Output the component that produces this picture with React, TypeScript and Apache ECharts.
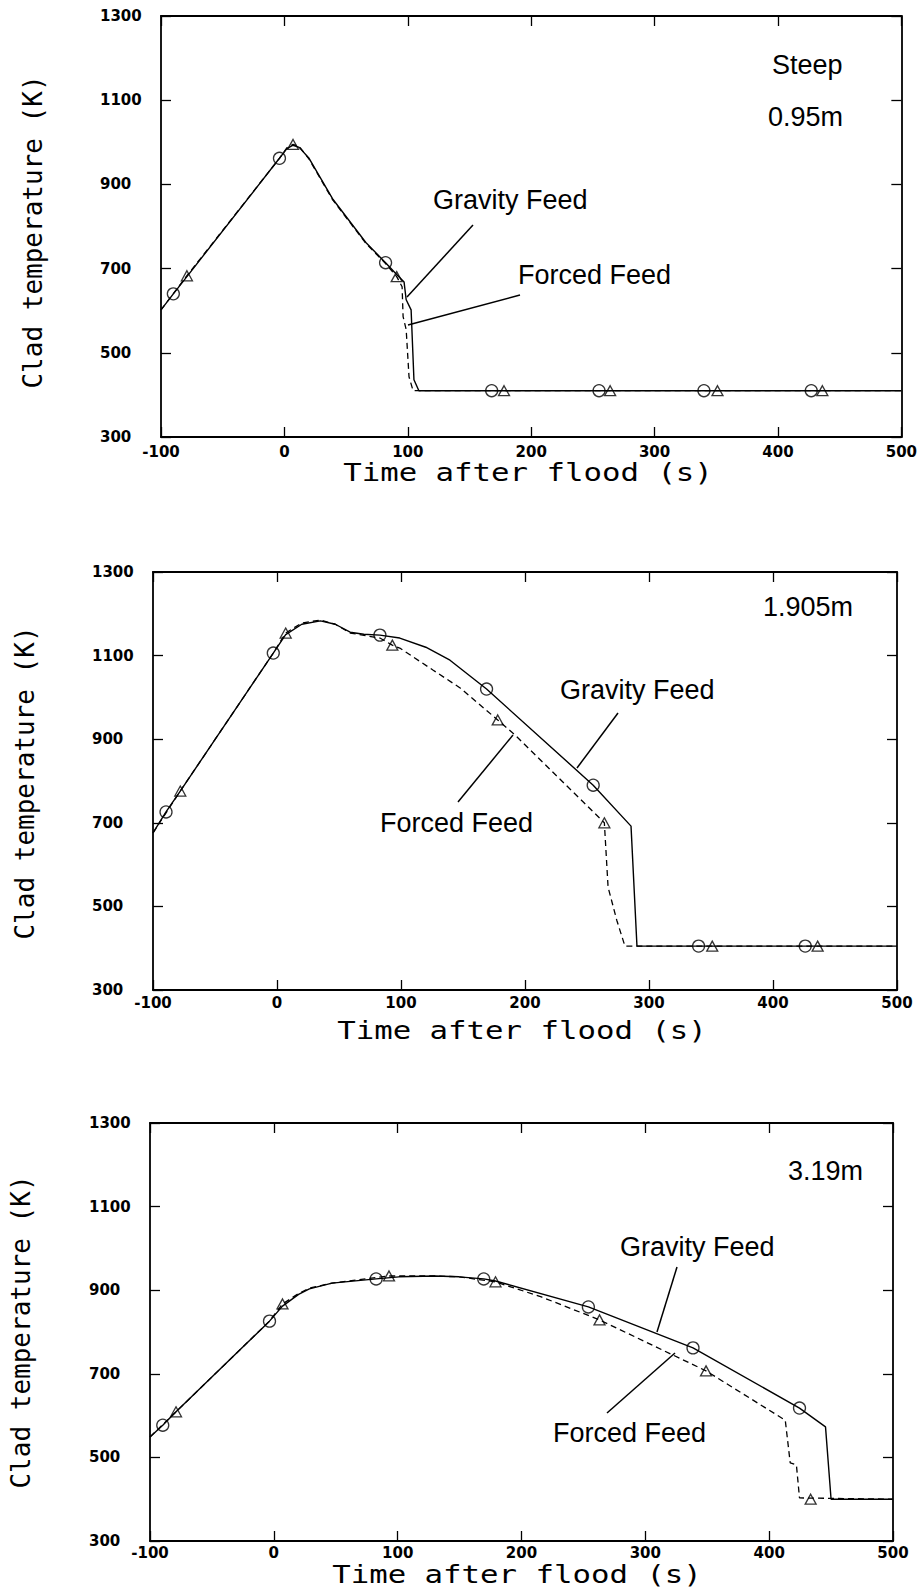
import React, { useEffect, useRef } from "react";
import * as echarts from "echarts";

// Axis ranges shared by all three panels
const X_MIN = -100;
const X_MAX = 500;
const X_STEP = 100;
const Y_MIN = 300;
const Y_MAX = 1300;
const Y_STEP = 200;

// Panel 1: Steep, 0.95 m elevation  [time (s), clad temperature (K)]
const gravity1: number[][] = [
  [-100, 602], [-90, 640], [-79, 681], [-4, 962], [2, 985], [7, 993], [12, 988],
  [20, 962], [39, 866], [66, 762], [82, 714], [91, 686], [97, 668], [98.7, 626],
  [102.7, 602], [105, 436], [109, 410], [500, 410],
];
const forced1: number[][] = [
  [-100, 602], [-79, 683], [-4, 962], [2, 987], [7, 995], [12, 990], [20, 960],
  [39, 864], [66, 760], [82, 712], [91, 681], [95.4, 657], [96.2, 586],
  [98.7, 555], [101, 443], [104.3, 410], [500, 410],
];
const gravityMarks1: number[][] = [
  [-90, 640], [-4, 962], [82, 714], [168, 410], [255, 410], [340, 410], [427, 410],
];
const forcedMarks1: number[][] = [
  [-79, 683], [7, 995], [91, 681], [178, 410], [264, 410], [351, 410], [436, 410],
];

// Panel 2: 1.905 m elevation
const gravity2: number[][] = [
  [-100, 676], [-89.5, 726], [-78, 776], [-3, 1106], [7, 1150], [20, 1175],
  [35, 1183], [47, 1175], [59, 1156], [70, 1151], [83, 1149], [99, 1142],
  [120, 1120], [139.5, 1089], [169, 1020], [255, 790], [285.5, 692],
  [290.3, 405], [500, 405],
];
const forced2: number[][] = [
  [-100, 676], [-78, 776], [-3, 1106], [7, 1154], [20, 1178], [35, 1185],
  [47, 1175], [59, 1154], [83, 1142], [93, 1125], [99, 1118], [126, 1065],
  [148, 1022], [178, 946], [192, 910], [264, 700], [267, 546], [274, 467],
  [280.6, 405], [500, 405],
];
const gravityMarks2: number[][] = [
  [-89.5, 726], [-3, 1106], [83, 1149], [169, 1020], [255, 790], [340, 405], [426, 405],
];
const forcedMarks2: number[][] = [
  [-78, 776], [7, 1154], [93, 1125], [178, 946], [264, 700], [351, 405], [436, 405],
];

// Panel 3: 3.19 m elevation
const gravity3: number[][] = [
  [-100, 549], [-89.7, 577], [-79, 609], [-3.5, 826], [7, 862], [20, 890],
  [28.7, 903], [47, 917], [82.6, 927], [101, 932], [130, 934], [149.5, 932],
  [169.5, 927], [179, 922], [254, 860], [338.5, 762], [424.5, 618],
  [445.5, 573], [450, 400], [500, 400],
];
const forced3: number[][] = [
  [-100, 549], [-79, 609], [-3.5, 826], [7, 867], [20, 892], [28.7, 905],
  [47, 917], [93, 934], [130, 934], [149.5, 932], [179, 920], [216, 884],
  [263, 829], [349, 707], [413, 589], [417, 487], [422, 482], [424.5, 403],
  [500, 400],
];
const gravityMarks3: number[][] = [
  [-89.7, 577], [-3.5, 826], [82.6, 927], [169.5, 927], [254, 860], [338.5, 762], [424.5, 618],
];
const forcedMarks3: number[][] = [
  [-79, 609], [7, 867], [93, 934], [179, 920], [263, 829], [349, 707], [433.5, 400],
];

const panels = [
  { gravity: gravity1, forced: forced1, gMarks: gravityMarks1, fMarks: forcedMarks1 },
  { gravity: gravity2, forced: forced2, gMarks: gravityMarks2, fMarks: forcedMarks2 },
  { gravity: gravity3, forced: forced3, gMarks: gravityMarks3, fMarks: forcedMarks3 },
];

// Plot-area boxes (pixels)
const boxes = [
  { left: 161, top: 16, width: 743, height: 421, labelGap: 7 },
  { left: 153, top: 572, width: 744, height: 418, labelGap: 5 },
  { left: 150, top: 1123, width: 743, height: 418, labelGap: 4 },
];

const TICK_FONT = {
  color: "#000",
  fontFamily: "DejaVu Sans",
  fontWeight: "bold" as const,
  fontSize: 15,
  formatter: (v: number) => String(v),
};
const AXIS_LINE = { show: true, onZero: false, lineStyle: { color: "#000", width: 1.8 } };
const AXIS_TICK = { show: true, inside: true, length: 10, lineStyle: { color: "#000", width: 1.3 } };

function annotation(text: string, x: number, y: number, size = 27) {
  return {
    type: "text",
    x,
    y,
    style: {
      text,
      fill: "#000",
      fontSize: size,
      fontFamily: "Liberation Sans",
      textAlign: "left",
      align: "left",
      textVerticalAlign: "middle",
      verticalAlign: "middle",
    },
  };
}

function leader(x1: number, y1: number, x2: number, y2: number) {
  return {
    type: "line",
    shape: { x1, y1, x2, y2 },
    style: { stroke: "#000", lineWidth: 1.5 },
  };
}

function axisTitle(text: string, x: number, y: number, vertical: boolean) {
  return {
    type: "text",
    x,
    y,
    rotation: vertical ? Math.PI / 2 : 0,
    scaleX: vertical ? 1 : 1.28,
    style: {
      text,
      fill: "#000",
      fontSize: vertical ? 26 : 24,
      fontFamily: "DejaVu Sans Mono",
      textAlign: "center",
      align: "center",
      textVerticalAlign: "middle",
      verticalAlign: "middle",
    },
  };
}

export default function App() {
  const ref = useRef<HTMLDivElement>(null);

  useEffect(() => {
    if (!ref.current) return;
    const chart = echarts.init(ref.current, null, { renderer: "svg" });

    const grid = boxes.map((b) => ({
      left: b.left,
      top: b.top,
      width: b.width,
      height: b.height,
      containLabel: false,
    }));

    const xAxis: any[] = [];
    const yAxis: any[] = [];
    boxes.forEach((b, i) => {
      const common = { type: "value", min: X_MIN, max: X_MAX, interval: X_STEP, gridIndex: i, splitLine: { show: false } };
      xAxis.push({
        ...common,
        position: "bottom",
        axisLine: AXIS_LINE,
        axisTick: AXIS_TICK,
        axisLabel: { ...TICK_FONT, margin: b.labelGap, showMinLabel: true, showMaxLabel: true },
      });
      xAxis.push({
        ...common,
        position: "top",
        axisLine: AXIS_LINE,
        axisTick: AXIS_TICK,
        axisLabel: { show: false },
      });
      const yCommon = { type: "value", min: Y_MIN, max: Y_MAX, interval: Y_STEP, gridIndex: i, splitLine: { show: false } };
      yAxis.push({
        ...yCommon,
        position: "left",
        axisLine: AXIS_LINE,
        axisTick: AXIS_TICK,
        axisLabel: { ...TICK_FONT, align: "left", margin: 61, showMinLabel: true, showMaxLabel: true },
      });
      yAxis.push({
        ...yCommon,
        position: "right",
        axisLine: AXIS_LINE,
        axisTick: AXIS_TICK,
        axisLabel: { show: false },
      });
    });

    const series: any[] = [];
    panels.forEach((p, i) => {
      const axes = { xAxisIndex: 2 * i, yAxisIndex: 2 * i };
      series.push({
        name: "Gravity Feed",
        type: "line",
        ...axes,
        data: p.gravity,
        showSymbol: false,
        symbol: "none",
        lineStyle: { color: "#000", width: 1.4 },
        z: 3,
      });
      series.push({
        name: "Forced Feed",
        type: "line",
        ...axes,
        data: p.forced,
        showSymbol: false,
        symbol: "none",
        lineStyle: { color: "#000", width: 1.3, type: [6, 4] },
        z: 3,
      });
      series.push({
        name: "Gravity Feed markers",
        type: "scatter",
        ...axes,
        data: p.gMarks,
        symbol: "circle",
        symbolSize: [12, 12],
        itemStyle: { color: "rgba(0,0,0,0)", borderColor: "#000", borderWidth: 1.3 },
        z: 4,
      });
      series.push({
        name: "Forced Feed markers",
        type: "scatter",
        ...axes,
        data: p.fMarks,
        symbol: "triangle",
        symbolSize: [11, 10],
        itemStyle: { color: "rgba(0,0,0,0)", borderColor: "#000", borderWidth: 1.3 },
        z: 4,
      });
    });

    const graphic: any[] = [
      // Panel 1
      annotation("Steep", 772, 65),
      annotation("0.95m", 768, 117),
      annotation("Gravity Feed", 433, 200),
      annotation("Forced Feed", 518, 275),
      leader(473, 225, 407, 297),
      leader(520, 295, 408, 325),
      axisTitle("Clad temperature (K)", 33, 232, true),
      axisTitle("Time after flood (s)", 528, 472, false),
      // Panel 2
      annotation("1.905m", 763, 607),
      annotation("Gravity Feed", 560, 690),
      annotation("Forced Feed", 380, 823),
      leader(618, 713, 577, 768),
      leader(458, 802, 513, 735),
      axisTitle("Clad temperature (K)", 25, 783, true),
      axisTitle("Time after flood (s)", 522, 1030, false),
      // Panel 3
      annotation("3.19m", 788, 1171),
      annotation("Gravity Feed", 620, 1247),
      annotation("Forced Feed", 553, 1433),
      leader(677, 1267, 657, 1332),
      leader(607, 1413, 675, 1353),
      axisTitle("Clad temperature (K)", 21, 1332, true),
      axisTitle("Time after flood (s)", 517, 1574, false),
    ];

    chart.setOption({
      animation: false,
      backgroundColor: "#fff",
      grid,
      xAxis,
      yAxis,
      series,
      graphic,
    });

    return () => chart.dispose();
  }, []);

  return (
    <div
      ref={ref}
      style={{ position: "absolute", left: 0, top: 0, width: 920, height: 1589, background: "#fff" }}
    />
  );
}
